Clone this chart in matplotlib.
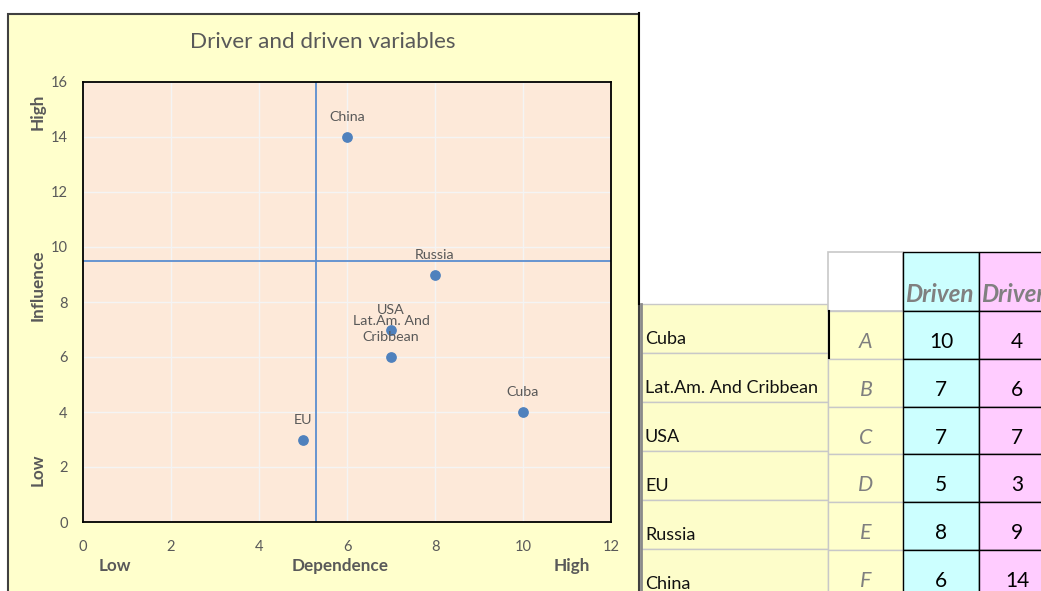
import matplotlib
matplotlib.use("Agg")
import matplotlib.pyplot as plt
from matplotlib.patches import Rectangle

plt.rcParams['font.family'] = ['Lato', 'DejaVu Sans']

# ---------------- data ----------------
countries = ["Cuba", "Lat.Am. And Cribbean", "USA", "EU", "Russia", "China"]
point_labels = ["Cuba", "Lat.Am. And\nCribbean", "USA", "EU", "Russia", "China"]
codes = ["A", "B", "C", "D", "E", "F"]
dependence = [10, 7, 7, 5, 8, 6]   # "Driven" column (x)
influence = [4, 6, 7, 3, 9, 14]    # "Driver" column (y)
divider_x = 5.3
divider_y = 9.5
x_ticks = [0, 2, 4, 6, 8, 10, 12]
y_ticks = [0, 2, 4, 6, 8, 10, 12, 14, 16]
title = "Driver and driven variables"
headers = ["Driven", "Driver"]

W, H = 1041, 591
fig = plt.figure(figsize=(W / 100, H / 100), dpi=100, facecolor="white")

GRAY = "#595959"

# background / overlay axes in pixel coordinates
bg = fig.add_axes([0, 0, 1, 1], zorder=0)
bg.set_xlim(0, W)
bg.set_ylim(H, 0)
bg.axis("off")

# chart area
bg.add_patch(Rectangle((7.5, 13.5), 631, 600, facecolor="#FFFFCC",
                       edgecolor="#404040", lw=1.5))

bg.text(323, 42, title, ha="center", va="center", fontsize=16.2, color=GRAY)

# axis titles
bold = dict(fontweight="bold", color=GRAY, fontsize=12.3)
bg.text(38, 112, "High", rotation=90, ha="center", va="center", **bold)
bg.text(38, 285, "Influence", rotation=90, ha="center", va="center", **bold)
bg.text(38, 470, "Low", rotation=90, ha="center", va="center", **bold)
bg.text(115, 566, "Low", ha="center", va="center", **bold)
bg.text(340, 566, "Dependence", ha="center", va="center", **bold)
bg.text(572, 566, "High", ha="center", va="center", **bold)

# ---------------- plot ----------------
L, R, T, B = 83, 611, 82, 522
ax = fig.add_axes([L / W, (H - B) / H, (R - L) / W, (B - T) / H], zorder=1)
ax.set_facecolor("#FDE9D9")
ax.set_xlim(0, 12)
ax.set_ylim(0, 16)
ax.set_xticks(x_ticks)
ax.set_yticks(y_ticks)
ax.grid(True, color="#F4F4F4", lw=1)
ax.set_axisbelow(True)
for s in ax.spines.values():
    s.set_color("black")
    s.set_linewidth(1.3)
ax.tick_params(length=0, colors=GRAY, labelsize=10.5)
ax.tick_params(axis="x", pad=13)
ax.tick_params(axis="y", pad=11)
for lab in ax.get_xticklabels() + ax.get_yticklabels():
    lab.set_color(GRAY)

ax.axvline(divider_x, color="#5B8ED0", lw=1.3, zorder=2)
ax.axhline(divider_y, color="#5B8ED0", lw=1.3, zorder=2)

ax.scatter(dependence, influence, s=45, color="#4F81BD", zorder=3)
for x, y, lab in zip(dependence, influence, point_labels):
    ax.annotate(lab, (x, y), xytext=(0, 10), textcoords="offset points",
                ha="center", va="bottom", fontsize=10.3, color=GRAY,
                linespacing=1.45, zorder=4)

# ---------------- table ----------------
tb = fig.add_axes([0, 0, 1, 1], zorder=2)
tb.set_xlim(0, W)
tb.set_ylim(H, 0)
tb.axis("off")
tb.patch.set_alpha(0)

# white region above table / right of chart
tb.add_patch(Rectangle((640, 0), W - 640, 304, facecolor="white", edgecolor="none"))
# chart right border (upper part)
tb.plot([639, 639], [13, 304], color="black", lw=1.5)

name_rows = [304, 353, 402, 451, 500, 549, 598]
grid_rows = [311, 359, 407, 454, 502, 550, 598]

# name column
for i, name in enumerate(countries):
    y0, y1 = name_rows[i], name_rows[i + 1]
    tb.add_patch(Rectangle((641, y0), 187, y1 - y0, facecolor="#FDFDCA",
                           edgecolor="#C8C8C8", lw=1))
    tb.text(645, y0 + 35, name, ha="left", va="center", fontsize=13,
            color="#111111")
tb.plot([641, 641], [304, H], color="#8A8A8A", lw=2)

# letter column header (white) and cells
tb.add_patch(Rectangle((828, 252), 75, 59, facecolor="white",
                       edgecolor="#C8C8C8", lw=1.2))
for i, c in enumerate(codes):
    y0, y1 = grid_rows[i], grid_rows[i + 1]
    tb.add_patch(Rectangle((828, y0), 75, y1 - y0, facecolor="#FFFFCC",
                           edgecolor="#C8C8C8", lw=1))
    tb.text(866, y0 + 31, c, ha="center", va="center", fontsize=15.5,
            style="italic", color="#7F7F7F")
tb.plot([829, 829], [311, 358], color="black", lw=1.5)

# value columns
cols = [(903, 76, "#CCFFFF", dependence), (979, 76, "#FFCCFF", influence)]
for (x0, w, fc, vals), hdr in zip(cols, headers):
    tb.add_patch(Rectangle((x0, 252), w, 59, facecolor=fc, edgecolor="black", lw=1))
    tb.text(x0 + 2, 294, hdr, ha="left", va="center", fontsize=17.5,
            fontweight="bold", style="italic", color="#808080")
    for i, v in enumerate(vals):
        y0, y1 = grid_rows[i], grid_rows[i + 1]
        tb.add_patch(Rectangle((x0, y0), w, y1 - y0, facecolor=fc,
                               edgecolor="black", lw=1))
        tb.text(x0 + 38, y0 + 31, str(v), ha="center", va="center",
                fontsize=15, color="black")

fig.savefig("out.png", dpi=100, facecolor="white")
